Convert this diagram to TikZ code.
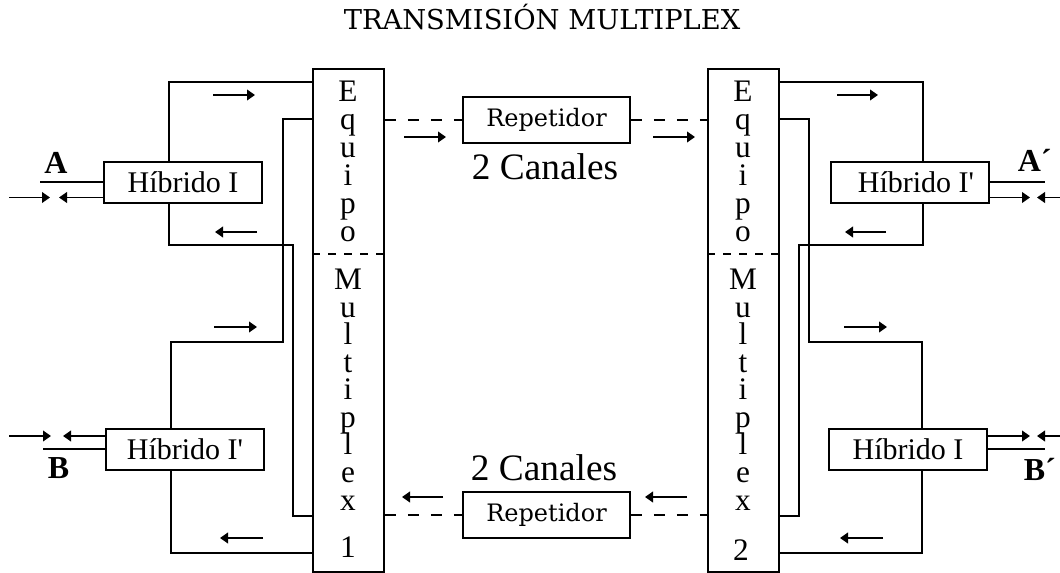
\documentclass[tikz,border=0pt]{standalone}
\usepackage{fontspec}
\setmainfont{Liberation Serif}
\newfontfamily\slabfont{DejaVu Serif}
\usetikzlibrary{arrows.meta}
\def\pxu{0.75pt}
\begin{document}
\begin{tikzpicture}[x=0.75pt,y=-0.75pt,line width=1.3pt,
  hybrid/.style={draw,rectangle,inner sep=0pt,minimum width=158*\pxu,minimum height=41*\pxu,font=\fontsize{22.5}{24}\selectfont},
  muxbox/.style={draw,rectangle,inner sep=0pt,minimum width=71*\pxu,minimum height=503*\pxu},
  repbox/.style={draw,rectangle,inner sep=0pt,minimum width=167*\pxu,minimum height=46*\pxu,font=\slabfont\fontsize{18}{20}\selectfont},
  muxletter/.style={anchor=base,inner sep=0pt,font=\fontsize{23.5}{24}\selectfont},
  canal/.style={anchor=base,inner sep=0pt,font=\fontsize{28}{30}\selectfont},
  port/.style={inner sep=0pt,font=\bfseries\fontsize{24}{26}\selectfont},
  arr/.style={-{Triangle[length=6pt,width=8pt]}},
  link/.style={dash pattern=on 8.25pt off 9pt},
  divline/.style={dash pattern=on 6pt off 6pt}]
\fill[white] (0,0) rectangle (1060,573);
\useasboundingbox (0,0) rectangle (1060,573);

% title
\node[anchor=base,inner sep=0pt,font=\slabfont\fontsize{20.5}{22}\selectfont] (title) at (542,30) {TRANSMISIÓN MULTIPLEX};

% multiplex equipment
\node[muxbox] (muxL) at (348.5,320.5) {};
\node[muxbox] (muxR) at (743.5,320.5) {};
\coordinate (dv) at (0,254);
\draw[divline] (muxL.west |- dv) -- (muxL.east |- dv);
\draw[divline] (muxR.west |- dv) -- (muxR.east |- dv);
\foreach \c [count=\i from 0] in {E,q,u,i,p,o} {
  \node[muxletter] (eqL\i) at (348,{102+28*\i}) {\c};
  \node[muxletter] (eqR\i) at (743,{102+28*\i}) {\c};
}
\foreach \c [count=\i from 0] in {M,u,l,t,i,p,l,e,x} {
  \node[muxletter] (mpL\i) at (348,{290+27.5*\i}) {\c};
  \node[muxletter] (mpR\i) at (743,{290+27.5*\i}) {\c};
}
\node[muxletter] (numL) at (348,557) {1};
\node[muxletter] (numR) at (741,560) {2};

% hybrids
\node[hybrid] (hA)  at (183,182.5) {Híbrido I};
\node[hybrid] (hB)  at (185,449.5) {Híbrido I\textquotesingle};
\node[hybrid] (hAp) at (910,182.5) {\hspace*{9pt}Híbrido I\textquotesingle};
\node[hybrid] (hBp) at (908,449.5) {Híbrido I};

% repeaters
\node[repbox] (repT) at (546.5,120) {Repetidor};
\node[repbox] (repB) at (546.5,515) {Repetidor};
\node[canal] (canT) at (545,180) {2 Canales};
\node[canal] (canB) at (544,480) {2 Canales};

% lines between repeaters and equipment
\draw[link] (muxL.east |- repT.west) -- (repT.west);
\draw[link] (repT.east) -- (muxR.west |- repT.east);
\draw[link] (muxL.east |- repB.west) -- (repB.west);
\draw[link] (repB.east) -- (muxR.west |- repB.east);

% left side wiring
\coordinate (l1) at (169,82);
\coordinate (l2) at (283,119);
\coordinate (l3) at (171,342);
\coordinate (l4) at (293,245);
\coordinate (l5) at (293,516);
\coordinate (l6) at (171,553);
\draw (hA.north -| l1) |- (muxL.west |- l1);
\draw (muxL.west |- l2) -| (l2 |- l3) -| (hB.north -| l3);
\draw (hA.south -| l1) |- (l4) |- (muxL.west |- l5);
\draw (hB.south -| l6) |- (muxL.west |- l6);

% right side wiring
\coordinate (r1) at (923,82);
\coordinate (r2) at (809,119);
\coordinate (r3) at (922,342);
\coordinate (r4) at (799,245);
\coordinate (r5) at (799,516);
\coordinate (r6) at (922,553);
\draw (muxR.east |- r1) -| (hAp.north -| r1);
\draw (muxR.east |- r2) -| (r2 |- r3) -| (hBp.north -| r3);
\draw (hAp.south -| r1) |- (r4) |- (muxR.east |- r5);
\draw (hBp.south -| r6) |- (muxR.east |- r6);

% direction of transmission
\draw[arr] (213,95) -- (255,95);
\draw[arr] (257,232) -- (215,232);
\draw[arr] (214,327) -- (257,327);
\draw[arr] (263,538) -- (220,538);
\draw[arr] (837,95) -- (878,95);
\draw[arr] (886,232) -- (845,232);
\draw[arr] (844,327) -- (887,327);
\draw[arr] (883,538) -- (840,538);
\draw[arr] (404,137) -- (446,137);
\draw[arr] (653,137) -- (695,137);
\draw[arr] (443,497) -- (402,497);
\draw[arr] (687,497) -- (645,497);

% subscriber ports
\coordinate (pA) at (40,182);
\coordinate (pAa) at (59,197.5);
\draw (pA) -- (hA.west |- pA);
\draw[arr] (9,197.5) -- (50,197.5);
\draw[arr] (hA.west |- pAa) -- (pAa);
\coordinate (pB) at (43,449);
\coordinate (pBa) at (63,436);
\draw (pB) -- (hB.west |- pB);
\draw[arr] (9,436) -- (51,436);
\draw[arr] (hB.west |- pBa) -- (pBa);
\coordinate (qA) at (1045,182);
\coordinate (qAa) at (1030,197.5);
\draw (hAp.east |- qA) -- (qA);
\draw[arr] (hAp.east |- qAa) -- (qAa);
\draw[arr] (1060,197.5) -- (1037,197.5);
\coordinate (qB) at (1045,449);
\coordinate (qBa) at (1030,436);
\draw (hBp.east |- qB) -- (qB);
\draw[arr] (hBp.east |- qBa) -- (qBa);
\draw[arr] (1060,436) -- (1037,436);

\node[port,anchor=base] (labA) at (56,174) {A};
\node[port,anchor=base] (labB) at (58.5,478) {B};
\node[port,anchor=base west] (labAp) at (1017,172) {A´};
\node[port,anchor=base west] (labBp) at (1023,480) {B´};
\end{tikzpicture}
\end{document}
